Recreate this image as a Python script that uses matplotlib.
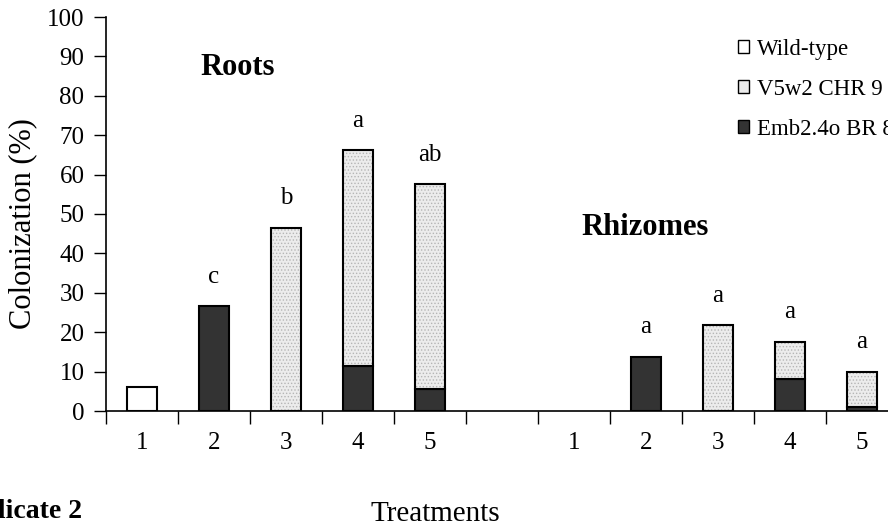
import matplotlib.pyplot as plt
import numpy as np
from matplotlib.patches import Patch

plt.rcParams['font.family'] = ['Liberation Serif', 'DejaVu Serif']
plt.rcParams['hatch.linewidth'] = 0.6

# -----------------------------
# Data
# -----------------------------
tick_labels = ['1', '2', '3', '4', '5', '', '1', '2', '3', '4', '5']
wild_type = [6.1, 0, 0, 0, 0, 0, 0, 0, 0, 0, 0]
v5w2 = [0, 0, 46.5, 54.8, 52.0, 0, 0, 0, 21.8, 9.4, 9.0]
emb24o = [0, 26.6, 0, 11.4, 5.5, 0, 0, 13.7, 0, 8.1, 0.9]
letters = ['', 'c', 'b', 'a', 'ab', '', '', 'a', 'a', 'a', 'a']
series_names = ['Wild-type', 'V5w2 CHR 9', 'Emb2.4o BR 8']

# -----------------------------
# Plot
# -----------------------------
fig = plt.figure(figsize=(8.88, 5.27), dpi=100)
ax = fig.add_axes([106 / 888, 1 - 411 / 527, 792 / 888, 394 / 527])

x = np.arange(len(tick_labels))
w = 0.42
lw = 1.5
light = '#ececec'
dark = '#333333'

wt = np.array(wild_type)
v5 = np.array(v5w2)
emb = np.array(emb24o)
has_wt = wt > 0
has_v5 = v5 > 0
has_emb = emb > 0

ax.bar(x[has_wt], wt[has_wt], w, color='white', edgecolor='black', linewidth=lw)
ax.bar(x[has_emb], emb[has_emb], w, color=dark, edgecolor='black', linewidth=lw)
# stippled fill (hatch takes the edge colour), then a black outline on top
ax.bar(x[has_v5], v5[has_v5], w, bottom=emb[has_v5], color=light,
       edgecolor='#b5b5b5', linewidth=0, hatch='.....')
ax.bar(x[has_v5], v5[has_v5], w, bottom=emb[has_v5], fill=False,
       edgecolor='black', linewidth=lw)

totals = wt + v5 + emb
for xi, t, lab in zip(x, totals, letters):
    if lab:
        ax.text(xi, t + 7.5, lab, ha='center', va='center', fontsize=18)

ax.set_xlim(-0.5, len(tick_labels) - 0.5)
ax.set_ylim(0, 100)
ax.set_yticks(np.arange(0, 101, 10))
ax.tick_params(axis='y', labelsize=18, direction='out', length=9, width=1, pad=6.5)

ax.set_xticks(np.arange(-0.5, len(tick_labels), 1))
ax.set_xticklabels([])
ax.tick_params(axis='x', which='major', direction='out', length=9, width=1)
ax.set_xticks(x, minor=True)
ax.set_xticklabels(tick_labels, minor=True, fontsize=18)
ax.tick_params(axis='x', which='minor', length=0, pad=15)

ax.spines['top'].set_visible(False)
ax.spines['right'].set_visible(False)
ax.spines['left'].set_linewidth(1.2)
ax.spines['bottom'].set_linewidth(1.2)

fig.text(23 / 888, 1 - 224 / 527, 'Colonization (%)', fontsize=22, rotation=90,
         ha='center', va='center')

ax.text(1.33, 87.3, 'Roots', fontsize=22, fontweight='bold', ha='center', va='center')
ax.text(6.99, 46.5, 'Rhizomes', fontsize=22, fontweight='bold', ha='center', va='center')

handles = [Patch(facecolor='white', edgecolor='black', linewidth=1),
           Patch(facecolor=light, edgecolor='black', linewidth=1),
           Patch(facecolor=dark, edgecolor='black', linewidth=1)]
fig.legend(handles, series_names, loc='upper left', bbox_to_anchor=(738 / 888, 1 - 39 / 527),
           frameon=False, fontsize=16.5, handlelength=0.5, handleheight=0.5,
           handletextpad=0.35, labelspacing=0.82, borderaxespad=0, borderpad=0)

fig.text(435 / 888, 1 - 514 / 527, 'Treatments', fontsize=21, ha='center', va='center')
fig.text(82 / 888, 1 - 512 / 527, 'Replicate 2', fontsize=20, fontweight='bold',
         ha='right', va='center')

fig.savefig('out.png', dpi=100)
